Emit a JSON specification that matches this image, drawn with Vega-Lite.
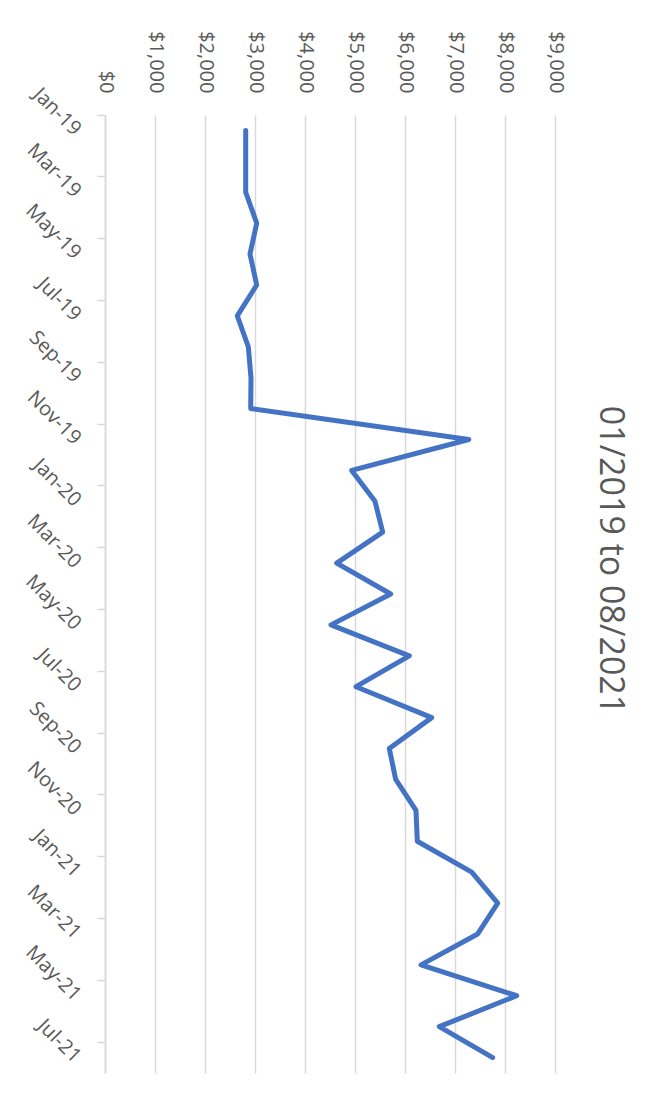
{
  "$schema": "https://vega.github.io/schema/vega-lite/v6.json",
  "width": 450,
  "height": 958,
  "autosize": {"type": "none"},
  "padding": {"left": 105, "top": 115, "right": 114, "bottom": 26},
  "background": "white",
  "title": {
    "text": "01/2019 to 08/2021",
    "orient": "right",
    "angle": 90,
    "anchor": "middle",
    "offset": 28,
    "dx": -34,
    "font": "Open Sans",
    "fontSize": 34,
    "fontWeight": "normal",
    "color": "#595959"
  },
  "data": {
    "values": [
      {"month": "Jan-19", "amount": 2814},
      {"month": "Feb-19", "amount": 2814},
      {"month": "Mar-19", "amount": 2814},
      {"month": "Apr-19", "amount": 3034},
      {"month": "May-19", "amount": 2900},
      {"month": "Jun-19", "amount": 3034},
      {"month": "Jul-19", "amount": 2646},
      {"month": "Aug-19", "amount": 2866},
      {"month": "Sep-19", "amount": 2920},
      {"month": "Oct-19", "amount": 2914},
      {"month": "Nov-19", "amount": 7276},
      {"month": "Dec-19", "amount": 4934},
      {"month": "Jan-20", "amount": 5400},
      {"month": "Feb-20", "amount": 5554},
      {"month": "Mar-20", "amount": 4634},
      {"month": "Apr-20", "amount": 5714},
      {"month": "May-20", "amount": 4520},
      {"month": "Jun-20", "amount": 6086},
      {"month": "Jul-20", "amount": 5020},
      {"month": "Aug-20", "amount": 6534},
      {"month": "Sep-20", "amount": 5686},
      {"month": "Oct-20", "amount": 5814},
      {"month": "Nov-20", "amount": 6220},
      {"month": "Dec-20", "amount": 6246},
      {"month": "Jan-21", "amount": 7334},
      {"month": "Feb-21", "amount": 7854},
      {"month": "Mar-21", "amount": 7454},
      {"month": "Apr-21", "amount": 6320},
      {"month": "May-21", "amount": 8234},
      {"month": "Jun-21", "amount": 6686},
      {"month": "Jul-21", "amount": 7754}
    ]
  },
  "mark": {"type": "line", "color": "#4472C4", "strokeWidth": 5, "strokeCap": "round", "strokeJoin": "round"},
  "encoding": {
    "y": {
      "field": "month",
      "type": "ordinal",
      "sort": null,
      "bandPosition": 0.5,
      "scale": {"type": "band", "paddingInner": 0, "paddingOuter": 0},
      "axis": {
        "title": null,
        "orient": "left",
        "values": ["Jan-19", "Mar-19", "May-19", "Jul-19", "Sep-19", "Nov-19", "Jan-20", "Mar-20", "May-20", "Jul-20", "Sep-20", "Nov-20", "Jan-21", "Mar-21", "May-21", "Jul-21"],
        "bandPosition": 0,
        "labelOffset": 2,
        "labelAngle": 45,
        "labelAlign": "right",
        "labelBaseline": "middle",
        "labelPadding": 20,
        "labelFont": "Open Sans",
        "labelFontSize": 20,
        "labelColor": "#595959",
        "domainColor": "#d9d9d9",
        "domainWidth": 1.5,
        "tickColor": "#d9d9d9",
        "tickWidth": 1.5,
        "tickSize": 8,
        "grid": false
      }
    },
    "x": {
      "field": "amount",
      "type": "quantitative",
      "scale": {"domain": [0, 9000], "nice": false},
      "axis": {
        "title": null,
        "orient": "top",
        "values": [0, 1000, 2000, 3000, 4000, 5000, 6000, 7000, 8000, 9000],
        "format": "$,.0f",
        "labelAngle": 90,
        "labelAlign": "right",
        "labelBaseline": "middle",
        "labelPadding": 22,
        "labelFont": "Open Sans",
        "labelFontSize": 20,
        "labelColor": "#595959",
        "domain": false,
        "ticks": false,
        "grid": true,
        "gridColor": "#d9d9d9",
        "gridWidth": 1.5
      }
    }
  },
  "config": {"view": {"stroke": null}}
}
